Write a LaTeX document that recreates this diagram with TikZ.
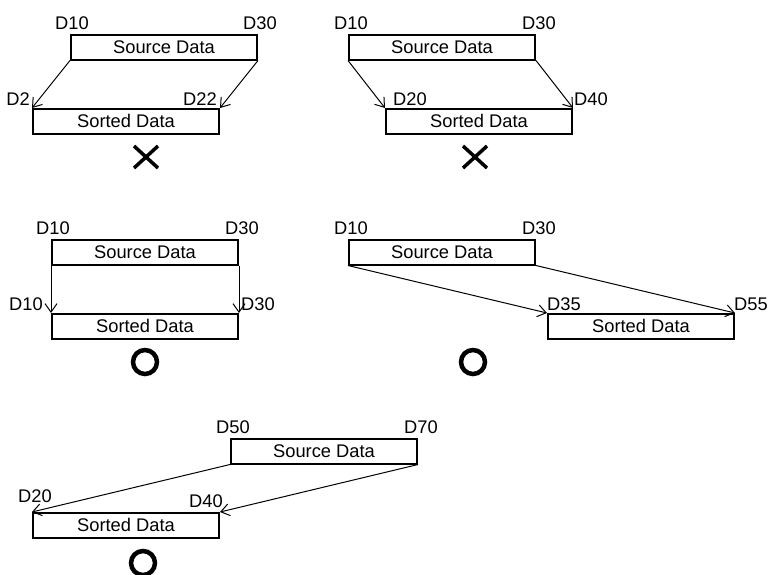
\documentclass[tikz,border=0pt]{standalone}
\usepackage{fontspec}
\setmainfont{Liberation Sans}
\usetikzlibrary{arrows.meta}
\begin{document}
\begin{tikzpicture}[x=1pt,y=-1pt,
  font=\fontsize{18.3}{20}\selectfont,
  databox/.style={draw, line width=2pt, minimum width=186pt, minimum height=24.5pt, inner sep=0pt, anchor=north west},
  lbl/.style={inner sep=0pt},
  arr/.style={line width=1pt, -{Straight Barb[length=8.5pt,width=12pt]}},
  okmark/.style={circle, draw, line width=4.5pt, minimum size=24pt, inner sep=0pt},
  ngline/.style={line width=3.5pt}]
\useasboundingbox (0,0) rectangle (768,574);

% Panel 1
\node[databox] (s1) at (70,34) {Source Data};
\node[databox] (t1) at (32,108) {Sorted Data};
\node[lbl, anchor=base] (s1a) at ([xshift=2pt,yshift=4.5pt]s1.north west) {D10};
\node[lbl, anchor=base] (s1b) at ([xshift=2pt,yshift=4.5pt]s1.north east) {D30};
\node[lbl, anchor=base east] (t1a) at ([xshift=-2pt,yshift=3pt]t1.north west) {D2};
\node[lbl, anchor=base east] (t1b) at ([xshift=-3pt,yshift=3pt]t1.north east) {D22};
\draw[arr] (s1.south west) -- (t1.north west);
\draw[arr] (s1.south east) -- (t1.north east);
\coordinate (x1) at (146,157);
\draw[ngline] ([shift={(-12,-11)}]x1) -- ([shift={(12,11)}]x1);
\draw[ngline] ([shift={(-12,11)}]x1) -- ([shift={(12,-11)}]x1);

% Panel 2
\node[databox] (s2) at (348,34) {Source Data};
\node[databox] (t2) at (385,108) {Sorted Data};
\node[lbl, anchor=base] (s2a) at ([xshift=3pt,yshift=4.5pt]s2.north west) {D10};
\node[lbl, anchor=base] (s2b) at ([xshift=3pt,yshift=4.5pt]s2.north east) {D30};
\node[lbl, anchor=base west] (t2a) at ([xshift=8pt,yshift=3pt]t2.north west) {D20};
\node[lbl, anchor=base west] (t2b) at ([xshift=1pt,yshift=3pt]t2.north east) {D40};
\draw[arr] (s2.south west) -- (t2.north west);
\draw[arr] (s2.south east) -- (t2.north east);
\coordinate (x2) at (475,157);
\draw[ngline] ([shift={(-12,-11)}]x2) -- ([shift={(12,11)}]x2);
\draw[ngline] ([shift={(-12,11)}]x2) -- ([shift={(12,-11)}]x2);

% Panel 3
\node[databox] (s3) at (51,239) {Source Data};
\node[databox] (t3) at (51,313) {Sorted Data};
\node[lbl, anchor=base] (s3a) at ([xshift=2pt,yshift=4.5pt]s3.north west) {D10};
\node[lbl, anchor=base] (s3b) at ([xshift=3pt,yshift=4.5pt]s3.north east) {D30};
\node[lbl, anchor=base east] (t3a) at ([xshift=-8pt,yshift=3pt]t3.north west) {D10};
\node[lbl, anchor=base west] (t3b) at ([xshift=2pt,yshift=3pt]t3.north east) {D30};
\draw[arr] (s3.south west) -- (t3.north west);
\draw[arr] (s3.south east) -- (t3.north east);
\node[okmark] (o3) at (145,362) {};

% Panel 4
\node[databox] (s4) at (348,239) {Source Data};
\node[databox] (t4) at (547,313) {Sorted Data};
\node[lbl, anchor=base] (s4a) at ([xshift=3pt,yshift=4.5pt]s4.north west) {D10};
\node[lbl, anchor=base] (s4b) at ([xshift=3pt,yshift=4.5pt]s4.north east) {D30};
\node[lbl, anchor=base west] (t4a) at ([xshift=0pt,yshift=3pt]t4.north west) {D35};
\node[lbl, anchor=base west] (t4b) at ([xshift=-1pt,yshift=3pt]t4.north east) {D55};
\draw[arr] (s4.south west) -- (t4.north west);
\draw[arr] (s4.south east) -- (t4.north east);
\node[okmark] (o4) at (473,362) {};

% Panel 5
\node[databox] (s5) at (230,438) {Source Data};
\node[databox] (t5) at (32,512) {Sorted Data};
\node[lbl, anchor=base] (s5a) at ([xshift=3pt,yshift=4.5pt]s5.north west) {D50};
\node[lbl, anchor=base] (s5b) at ([xshift=3pt,yshift=4.5pt]s5.north east) {D70};
\node[lbl, anchor=base] (t5a) at ([xshift=3pt,yshift=10pt]t5.north west) {D20};
\node[lbl, anchor=base east] (t5b) at ([xshift=3pt,yshift=5pt]t5.north east) {D40};
\draw[arr] (s5.south west) -- (t5.north west);
\draw[arr] (s5.south east) -- (t5.north east);
\node[okmark] (o5) at (143,563) {};
\end{tikzpicture}
\end{document}
